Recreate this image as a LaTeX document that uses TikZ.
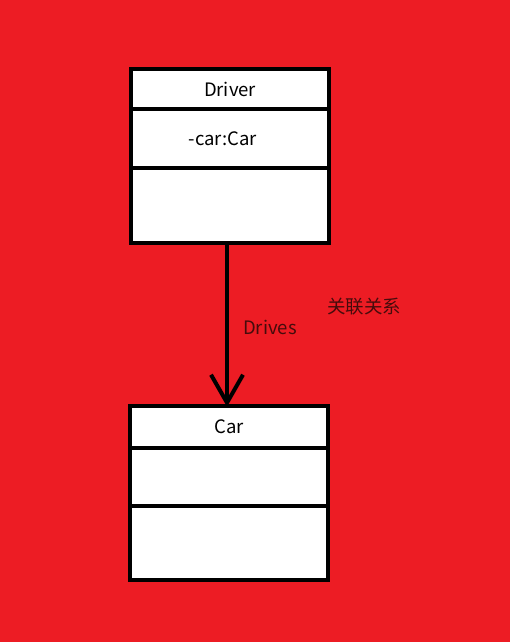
\documentclass[tikz,border=0pt]{standalone}
\usepackage{fontspec}
\setmainfont{Noto Sans CJK SC}
\usetikzlibrary{arrows.meta}
\definecolor{paintred}{RGB}{237,28,36}
\definecolor{darkink}{RGB}{70,12,12}

\begin{document}
\begin{tikzpicture}[
  x=1pt, y=-1pt,
  part/.style={draw, fill=white, line width=4.5pt, minimum width=198pt, inner sep=0pt, font=\fontsize{18.5}{22}\selectfont},
  lbl/.style={text=darkink, font=\fontsize{18.5}{22}\selectfont},
  arr/.style={-{Straight Barb[length=28pt,width=32pt]}, line width=4pt, shorten >=-3pt}
]
\fill[paintred] (0,0) rectangle (510,642);
\useasboundingbox (0,0) rectangle (510,642);
% Driver class
\node[part, minimum height=40pt] (drvname) at (230,89) {Driver};
\node[part, minimum height=59pt] (drvattr) at (230,138.5) {\hspace*{-14pt}-car:Car};
\node[part, minimum height=75pt] (drvops) at (230,205.5) {};
% Car class
\node[part, minimum height=42pt] (carname) at (229,427) {Car};
\node[part, minimum height=58pt] (carattr) at (229,477) {};
\node[part, minimum height=74pt] (carops) at (229,543) {};
\draw[arr] (drvops.south -| 227,0) -- (carname.north -| 227,0);
\node[lbl] (drives) at (270,327) {Drives};
\node[lbl] (assoc) at (364,307) {关联关系};
\end{tikzpicture}
\end{document}
